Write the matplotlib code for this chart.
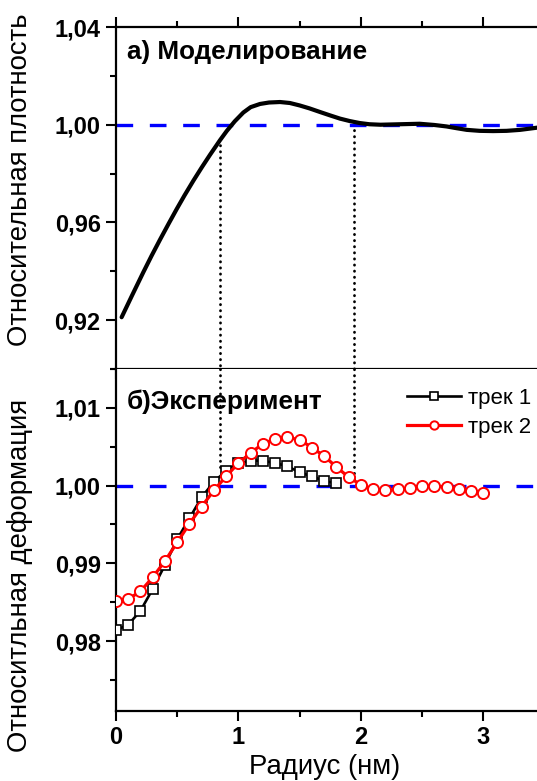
import matplotlib
matplotlib.use("Agg")
import matplotlib.pyplot as plt
from matplotlib.ticker import MultipleLocator, FuncFormatter

plt.rcParams["font.family"] = ["Liberation Sans", "DejaVu Sans"]

# a) modelling: relative density vs radius
model_r = [0.046, 0.13, 0.223, 0.29, 0.36, 0.43, 0.496, 0.56, 0.632, 0.70, 0.768, 0.85,
           0.904, 0.97, 1.04, 1.10, 1.176, 1.25, 1.34, 1.42, 1.50, 1.58, 1.667, 1.75,
           1.83, 1.91, 1.99, 2.07, 2.16, 2.32, 2.48, 2.60, 2.70, 2.78, 2.865, 2.97,
           3.08, 3.19, 3.30, 3.44]
model_rho = [0.9212, 0.9300, 0.9396, 0.9463, 0.9530, 0.9595, 0.9655, 0.9711, 0.9771, 0.9825,
             0.9877, 0.9937, 0.9974, 1.0014, 1.0050, 1.0072, 1.0085, 1.0091, 1.0093, 1.0089,
             1.0079, 1.0067, 1.0052, 1.0038, 1.0025, 1.0015, 1.0007, 1.0002, 1.0000, 1.0002,
             1.0004, 0.9999, 0.9993, 0.9986, 0.9979, 0.9975, 0.9974, 0.9975, 0.9979, 0.9988]

# b) experiment: relative deformation, two tracks
track1_r = [0.0, 0.1, 0.2, 0.3, 0.4, 0.5, 0.6, 0.7, 0.8, 0.9, 1.0, 1.1, 1.2, 1.3, 1.4,
            1.5, 1.6, 1.7, 1.8]
track1 = [0.9814, 0.9821, 0.9839, 0.9867, 0.9898, 0.9931, 0.9958, 0.9985, 1.0005, 1.0019,
          1.0029, 1.0032, 1.0032, 1.0029, 1.0025, 1.0017, 1.0012, 1.0006, 1.0003]
track2_r = [0.0, 0.1, 0.2, 0.3, 0.4, 0.5, 0.6, 0.7, 0.8, 0.9, 1.0, 1.1, 1.2, 1.3, 1.4,
            1.5, 1.6, 1.7, 1.8, 1.9, 2.0, 2.1, 2.2, 2.3, 2.4, 2.5, 2.6, 2.7, 2.8, 2.9, 3.0]
track2 = [0.9852, 0.9854, 0.9864, 0.9882, 0.9903, 0.9927, 0.9951, 0.9973, 0.9994, 1.0012,
          1.0029, 1.0042, 1.0054, 1.0060, 1.0062, 1.0059, 1.0049, 1.0038, 1.0024, 1.0011,
          1.0001, 0.9995, 0.9994, 0.9995, 0.9997, 0.9999, 1.0000, 0.9998, 0.9995, 0.9993,
          0.9991]

# boundaries marked with dotted lines
bound_r = [0.85, 1.94]
bound_top = [0.9940, 0.9978]
bound_bot = [1.0018, 1.0005]

fig = plt.figure(figsize=(5.37, 7.81), dpi=100)
ax1 = fig.add_axes([0.216, 0.5275, 0.798, 0.4379])
ax2 = fig.add_axes([0.216, 0.0896, 0.798, 0.4379])

comma = FuncFormatter(lambda v, p: f"{v:.2f}".replace(".", ","))
dotted = dict(color="black", lw=2.0, dashes=(0.1, 2.1), dash_capstyle="round", zorder=2)

for ax in (ax1, ax2):
    ax.set_xlim(0, 3.5)
    for s in ax.spines.values():
        s.set_linewidth(1.6)
    ax.spines["right"].set_visible(False)
    ax.xaxis.set_major_locator(MultipleLocator(1))
    ax.xaxis.set_minor_locator(MultipleLocator(0.5))
    ax.tick_params(which="major", direction="out", length=7.5, width=1.5, labelsize=17)
    ax.tick_params(which="minor", direction="out", length=4.5, width=1.5)
    ax.axhline(1.0, color="#0000ff", lw=2.4, dashes=(5, 5), zorder=1)

# top panel
ax1.set_ylim(0.90, 1.04)
ax1.yaxis.set_major_locator(MultipleLocator(0.04))
ax1.yaxis.set_minor_locator(MultipleLocator(0.02))
ax1.yaxis.set_major_formatter(comma)
ax1.tick_params(axis="x", which="both", labelbottom=False, top=True)
ax1.plot(model_r, model_rho, color="black", lw=3.0, solid_joinstyle="round",
         solid_capstyle="round", zorder=3)
for r, y in zip(bound_r, bound_top):
    ax1.plot([r, r], [y, 0.90], **dotted)
ax1.text(0.026, 0.928, "а) Моделирование", transform=ax1.transAxes, fontsize=18.8,
         fontweight="bold", va="center", ha="left")
ax1.set_ylabel("Относительная плотность", fontsize=19.8)
ax1.yaxis.set_label_coords(-0.194, 0.552)

# bottom panel
ax2.set_ylim(0.971, 1.015)
ax2.yaxis.set_major_locator(MultipleLocator(0.01))
ax2.yaxis.set_minor_locator(MultipleLocator(0.005))
ax2.yaxis.set_major_formatter(comma)
ax2.spines["top"].set_visible(False)
for r, y in zip(bound_r, bound_bot):
    ax2.plot([r, r], [1.015, y], **dotted)
ax2.plot(track1_r, track1, color="black", lw=1.9, marker="s", ms=7, mfc="white",
         mec="black", mew=1.2, label="трек 1", zorder=3)
ax2.plot(track2_r, track2, color="red", lw=2.3, marker="o", ms=8, mfc="white",
         mec="red", mew=1.4, label="трек 2", zorder=4)
ax2.xaxis.set_major_formatter(FuncFormatter(lambda v, p: f"{v:.0f}"))
ax2.text(0.026, 0.905, "б)Эксперимент", transform=ax2.transAxes, fontsize=18.8,
         fontweight="bold", va="center", ha="left")
ax2.set_ylabel("Относитльная деформация", fontsize=19.8)
ax2.yaxis.set_label_coords(-0.194, 0.395)
ax2.set_xlabel("Радиус (нм)", fontsize=19.8)
ax2.xaxis.set_label_coords(0.488, -0.126)
ax2.legend(loc="upper right", bbox_to_anchor=(0.97, 0.945), frameon=False, fontsize=16,
           borderaxespad=0, borderpad=0, handlelength=2.4, handletextpad=0.35,
           labelspacing=0.38, markerscale=0.75)

for ax in (ax1, ax2):
    for lab in ax.get_yticklabels() + ax.get_xticklabels():
        lab.set_fontweight("bold")

fig.savefig("out.png", dpi=100)
